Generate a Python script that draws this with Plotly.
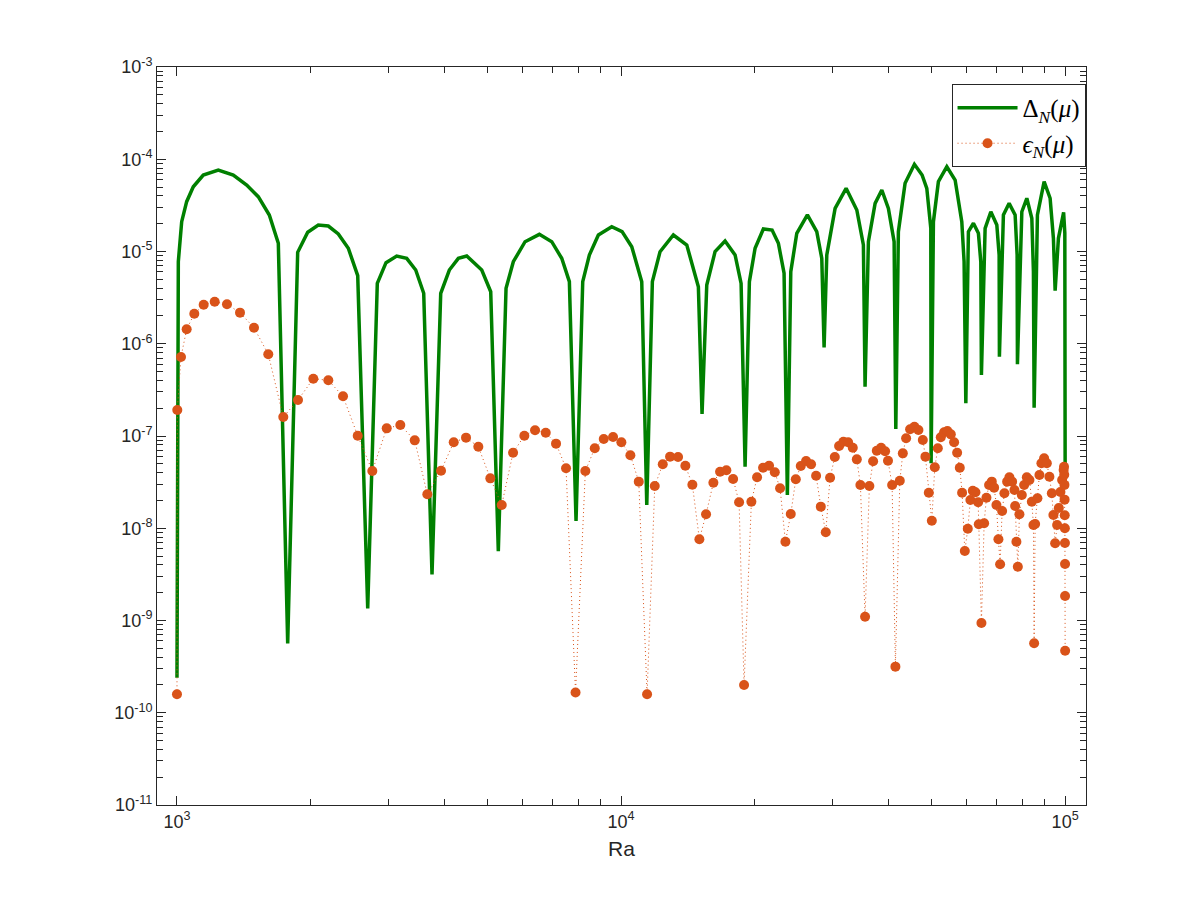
import plotly.graph_objects as go

# ---- data (stored as log10 values) ----
ra_delta_log = [
    3.000, 3.003, 3.0106, 3.0218, 3.0367, 3.0592, 3.093, 3.1268, 3.157, 3.183, 3.2079, 3.2282,
    3.2493, 3.2718, 3.2944, 3.3182, 3.3408, 3.3633, 3.3858, 3.407, 3.4295, 3.4511, 3.4707,
    3.4948, 3.5173, 3.5376, 3.5556, 3.5743, 3.5939, 3.6133, 3.6336, 3.6525, 3.6863, 3.7065,
    3.7236, 3.741, 3.7574, 3.7838, 3.816, 3.8439, 3.8664, 3.8836, 3.8986, 3.9137, 3.9286,
    3.9489, 3.979, 4.0023, 4.0241, 4.0466, 4.0579, 4.0705, 4.0878, 4.1178, 4.148, 4.1741,
    4.1824, 4.193, 4.2117, 4.2342, 4.2568, 4.2703, 4.2793, 4.289, 4.3018, 4.3205, 4.3401,
    4.3543, 4.3671, 4.3745, 4.3822, 4.3957, 4.4196, 4.4407, 4.452, 4.4572, 4.4633, 4.482,
    4.5068, 4.5309, 4.5457, 4.5495, 4.557, 4.5721, 4.5872, 4.602, 4.6149, 4.6187, 4.6245,
    4.6396, 4.6606, 4.6779, 4.6885, 4.6975, 4.6982, 4.7034, 4.7146, 4.7336, 4.7523, 4.7673,
    4.7725, 4.7764, 4.7822, 4.7935, 4.8047, 4.8101, 4.8115, 4.8198, 4.8327, 4.8462, 4.8514,
    4.852, 4.861, 4.8739, 4.8874, 4.8919, 4.8926, 4.9025, 4.9137, 4.925, 4.9286, 4.9302,
    4.9376, 4.9527, 4.9662, 4.9736, 4.9775, 4.9849, 4.9966, 4.9993, 5.0,
]
delta_log = [
    -9.62, -5.11, -4.677, -4.46, -4.298, -4.171, -4.117, -4.171, -4.279, -4.406, -4.604, -4.911,
    -9.25, -5.009, -4.792, -4.713, -4.724, -4.81, -4.965, -5.262, -8.87, -5.345, -5.121,
    -5.049, -5.074, -5.201, -5.453, -8.50, -5.453, -5.201, -5.074, -5.049, -5.201, -5.436,
    -8.25, -5.399, -5.111, -4.894, -4.814, -4.894, -5.074, -5.327, -7.92, -5.327, -5.038,
    -4.821, -4.731, -4.785, -4.948, -5.327, -7.748, -5.327, -5.002, -4.821, -4.93, -5.382,
    -6.762, -5.363, -5.002, -4.886, -5.038, -5.345, -7.333, -5.327, -4.965, -4.756, -4.767,
    -4.911, -5.236, -7.64, -5.219, -4.803, -4.604, -4.785, -5.074, -6.039, -5.038, -4.532,
    -4.315, -4.55, -4.93, -6.466, -4.894, -4.478, -4.333, -4.532, -4.894, -6.924, -4.785,
    -4.261, -4.055, -4.171, -4.315, -4.749, -7.296, -4.677, -4.243, -4.081, -4.225, -4.677,
    -5.111, -6.646, -4.785, -4.694, -4.803, -5.111, -6.339, -4.749, -4.569, -4.713, -5.038,
    -6.14, -4.604, -4.478, -4.604, -5.038, -6.223, -4.569, -4.423, -4.64, -5.219, -6.693,
    -4.604, -4.243, -4.423, -4.857, -5.425, -4.857, -4.575, -4.80, -7.293,
]

ra_eps_log = [
    3.000, 3.0007, 3.009, 3.0218, 3.039, 3.0601, 3.0849, 3.1126, 3.1419, 3.1734, 3.2056,
    3.2394, 3.2725, 3.307, 3.3408, 3.3739, 3.407, 3.4399, 3.4723, 3.5029, 3.5354, 3.5637,
    3.5946, 3.6232, 3.6509, 3.6786, 3.7056, 3.7313, 3.7568, 3.7822, 3.8063, 3.8304, 3.8536,
    3.8761, 3.8975, 3.9196, 3.9408, 3.961, 3.982, 4.0007, 4.021, 4.0399, 4.0586, 4.0759,
    4.0939, 4.1104, 4.1284, 4.1448, 4.1606, 4.1764, 4.1914, 4.2079, 4.223, 4.2372, 4.2523,
    4.2658, 4.277, 4.2935, 4.3063, 4.3198, 4.3333, 4.3462, 4.3581, 4.3701, 4.3822, 4.3935,
    4.4047, 4.4167, 4.4279, 4.4392, 4.4498, 4.461, 4.4707, 4.4813, 4.491, 4.5007, 4.5113,
    4.5218, 4.5309, 4.539, 4.5495, 4.5592, 4.5676, 4.5759, 4.5856, 4.5946, 4.6011, 4.6104,
    4.6178, 4.6277, 4.6345, 4.6419, 4.6509, 4.6606, 4.6696, 4.6795, 4.6854, 4.693, 4.6998,
    4.7065, 4.7133, 4.72, 4.7275, 4.7349, 4.7426, 4.75, 4.7568, 4.7628, 4.768, 4.7741,
    4.7808, 4.7867, 4.7921, 4.798, 4.8041, 4.8056, 4.8115, 4.8176, 4.8228, 4.8288, 4.8349,
    4.8401, 4.8453, 4.8498, 4.8536, 4.8581, 4.8633, 4.8694, 4.8745, 4.8806, 4.8858, 4.8874,
    4.8903, 4.8935, 4.8971, 4.9025, 4.9077, 4.9137, 4.9196, 4.925, 4.9286, 4.9302, 4.9324,
    4.9376, 4.9421, 4.9466, 4.9527, 4.9588, 4.9646, 4.97, 4.9736, 4.9775, 4.982, 4.9858,
    4.9894, 4.9932, 4.9966, 4.9975, 4.998, 4.9985, 4.9988, 4.9991, 4.9994, 4.9996, 4.9998,
    4.9999, 5.0,
]
eps_log = [
    -9.80, -6.718, -6.144, -5.843, -5.674, -5.577, -5.544, -5.572, -5.663, -5.826, -6.114,
    -6.794, -6.61, -6.379, -6.396, -6.57, -6.997, -7.379, -6.917, -6.881, -7.047, -7.632,
    -7.376, -7.068, -7.018, -7.116, -7.459, -7.748, -7.181, -6.997, -6.938, -6.964, -7.083,
    -7.35, -9.78, -7.379, -7.133, -7.033, -7.011, -7.068, -7.209, -7.495, -9.80, -7.542,
    -7.307, -7.224, -7.228, -7.322, -7.528, -8.12, -7.849, -7.506, -7.387, -7.372, -7.466,
    -7.719, -9.70, -7.713, -7.448, -7.344, -7.322, -7.393, -7.567, -8.146, -7.846, -7.469,
    -7.325, -7.271, -7.307, -7.43, -7.766, -8.044, -7.452, -7.228, -7.108, -7.062, -7.068,
    -7.127, -7.253, -7.531, -8.96, -7.542, -7.274, -7.159, -7.127, -7.166, -7.268, -7.531,
    -9.50, -7.485, -7.188, -7.025, -6.927, -6.899, -6.935, -7.043, -7.224, -7.615, -7.918,
    -7.339, -7.133, -7.014, -6.96, -6.946, -6.982, -7.068, -7.181, -7.344, -7.615, -8.247,
    -8.005, -7.694, -7.593, -7.61, -7.719, -7.957, -9.027, -7.946, -7.669, -7.531, -7.495,
    -7.56, -7.748, -8.12, -8.391, -7.813, -7.621, -7.495, -7.448, -7.495, -7.585, -7.759,
    -8.146, -8.417, -7.849, -7.64, -7.531, -7.448, -7.477, -7.713, -7.965, -9.247, -7.954,
    -7.675, -7.423, -7.296, -7.242, -7.296, -7.441, -7.621, -7.856, -8.163, -7.965, -7.781,
    -7.607, -7.477, -7.369, -7.333, -7.42, -7.53, -7.69, -7.86, -8.0, -8.16, -8.388,
    -8.734, -9.327, -9.95,
]

ra_delta = [10 ** v for v in ra_delta_log]
delta = [10 ** v for v in delta_log]
ra_eps = [10 ** v for v in ra_eps_log]
eps = [10 ** v for v in eps_log]

x_decades = [3, 4, 5]
y_decades = [-11, -10, -9, -8, -7, -6, -5, -4, -3]
x_tickvals = [10 ** e for e in x_decades]
x_ticktext = ["10<sup>%d</sup>" % e for e in x_decades]
y_tickvals = [10 ** e for e in y_decades]
y_ticktext = ["10<sup>%d</sup>" % e for e in y_decades]
x_minor = [m * 10 ** e for e in [2, 3, 4, 5] for m in range(2, 10)]
y_minor = [m * 10 ** e for e in range(-12, -2) for m in range(2, 10)]

GREEN = "#008000"
ORANGE = "#D95319"
AX = "#262626"

fig = go.Figure()
fig.add_trace(go.Scatter(
    x=ra_delta, y=delta, mode="lines",
    line=dict(color=GREEN, width=3.5),
    name="Δ<sub><i>N</i></sub>(<i>μ</i>)",
))
fig.add_trace(go.Scatter(
    x=ra_eps, y=eps, mode="lines+markers",
    line=dict(color=ORANGE, width=1, dash="1px,3px"),
    marker=dict(color=ORANGE, size=10, symbol="circle"),
    name="<i>ϵ</i><sub><i>N</i></sub>(<i>μ</i>)",
))

axis_common = dict(
    showgrid=False, zeroline=False, showline=True, linecolor=AX, linewidth=1,
    mirror="allticks", ticks="inside", ticklen=9, tickcolor=AX,
    tickfont=dict(family="Liberation Sans, Arial, sans-serif", size=18, color=AX),
)

fig.update_xaxes(
    type="log", range=[2.955, 5.047],
    tickvals=x_tickvals, ticktext=x_ticktext,
    minor=dict(ticks="inside", ticklen=6, tickcolor=AX, tickvals=x_minor, showgrid=False),
    title=dict(text="Ra", font=dict(family="Liberation Sans, Arial, sans-serif", size=21, color=AX),
               standoff=10),
    **axis_common,
)
fig.update_yaxes(
    type="log", range=[-11, -3],
    tickvals=y_tickvals, ticktext=y_ticktext,
    minor=dict(ticks="inside", ticklen=6, tickcolor=AX, tickvals=y_minor, showgrid=False),
    **axis_common,
)

fig.update_layout(
    width=1200, height=900,
    paper_bgcolor="white", plot_bgcolor="white",
    margin=dict(l=157, r=114, t=67, b=95),
    showlegend=True,
    legend=dict(
        x=0.9995, y=0.977, xanchor="right", yanchor="top",
        bgcolor="white", bordercolor=AX, borderwidth=1,
        font=dict(family="Liberation Serif, DejaVu Serif, serif", size=25, color="black"),
        itemwidth=60, tracegroupgap=0,
    ),
)

fig.write_html("out.html")
